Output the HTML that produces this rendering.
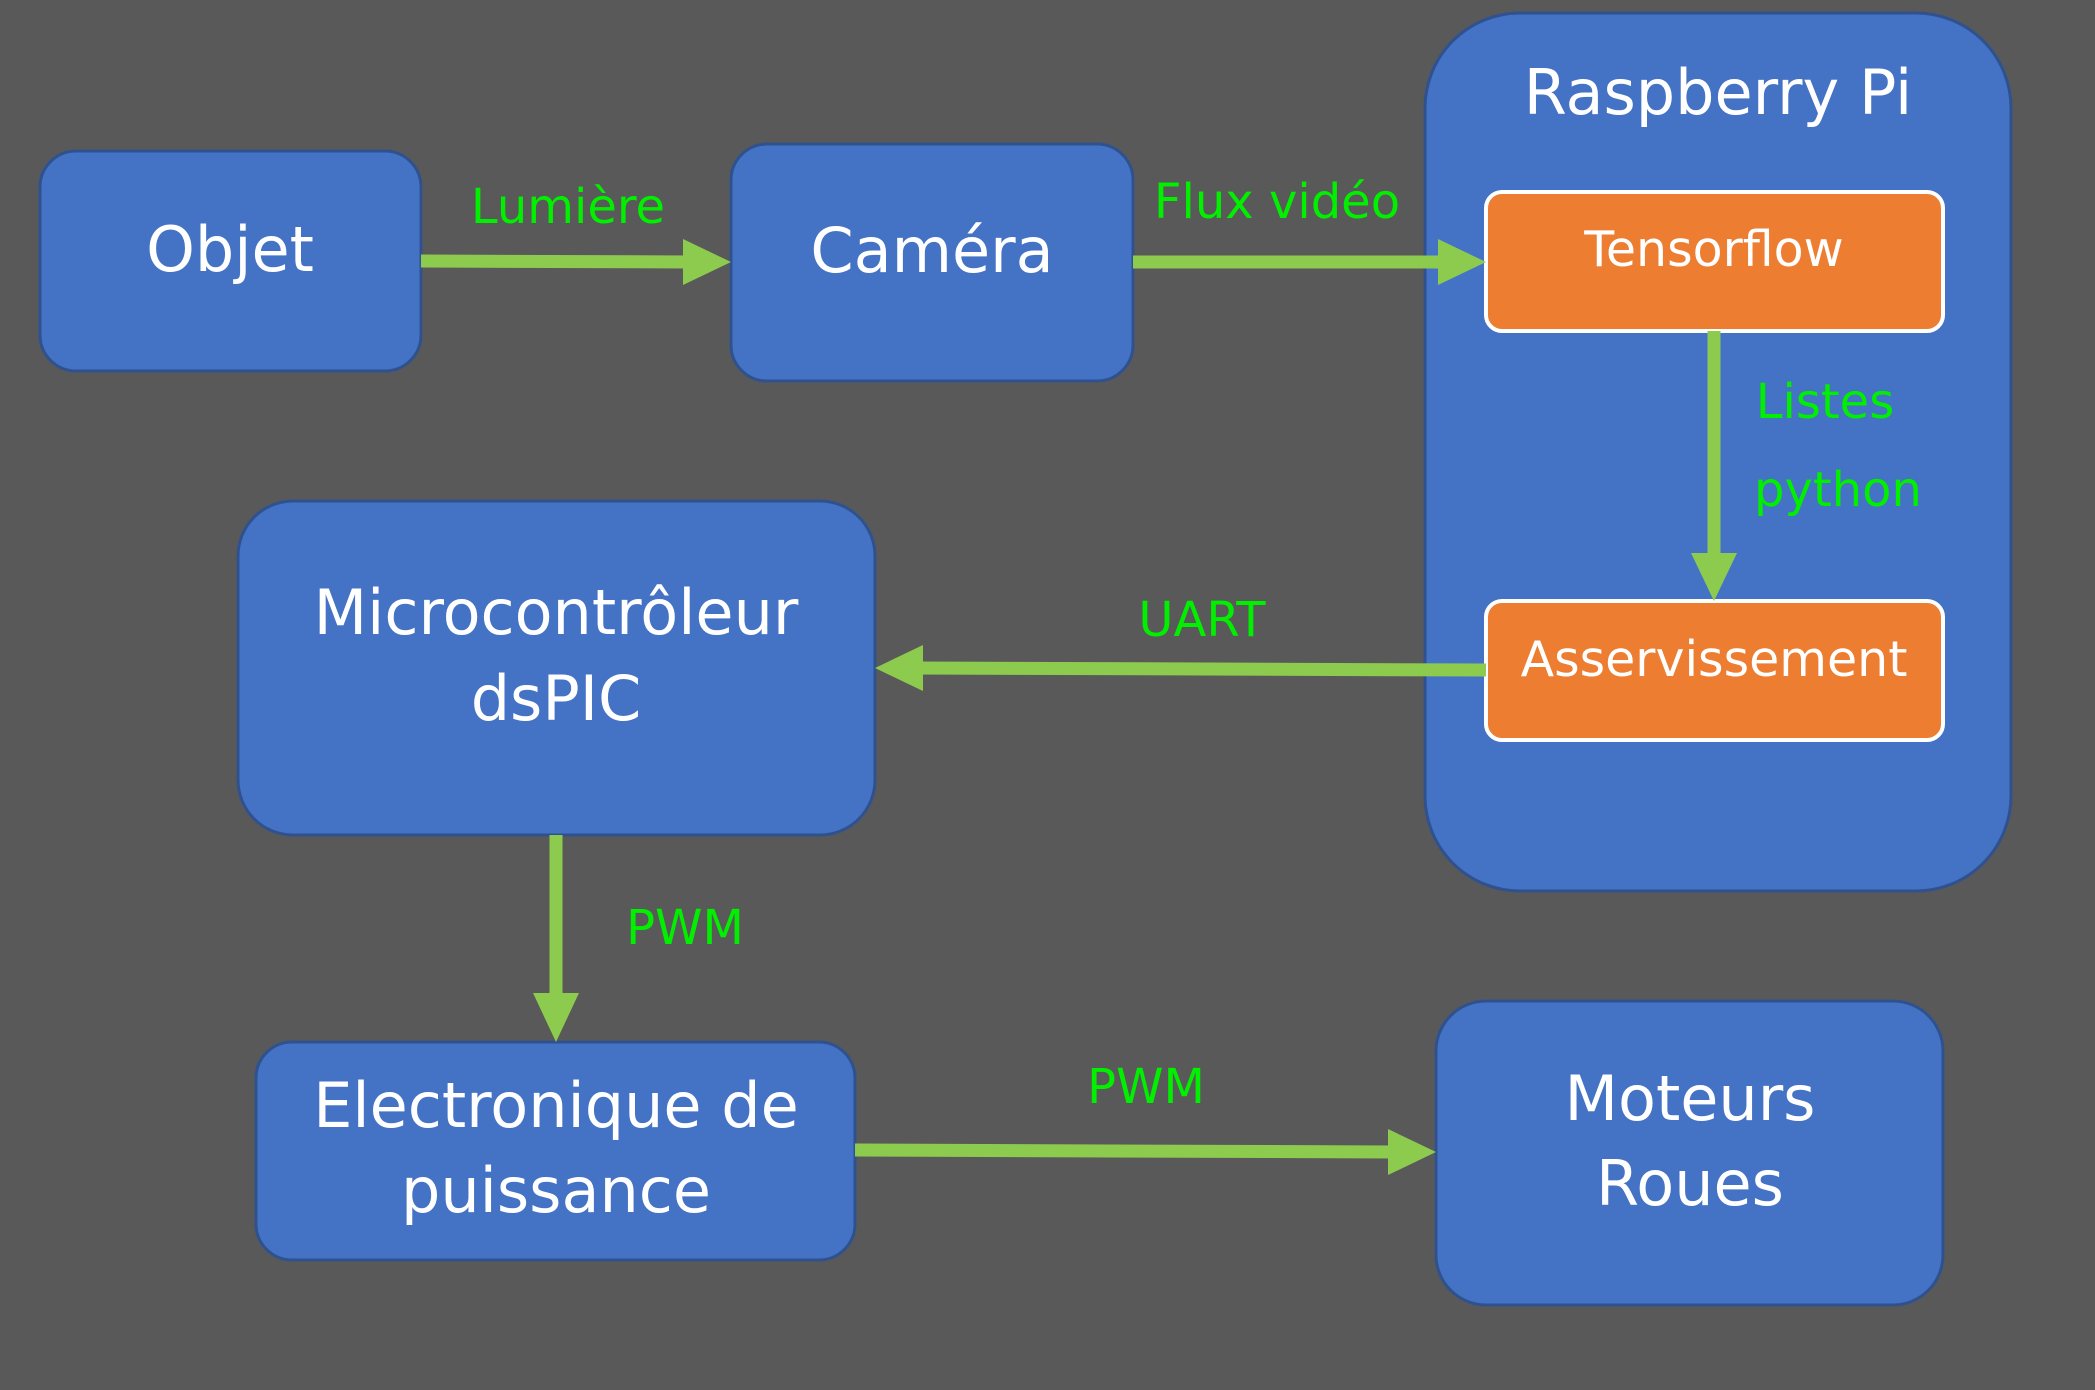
<!DOCTYPE html>
<html><head><meta charset="utf-8"><style>
html,body{margin:0;padding:0;background:#595959;}
svg{display:block;}
text{font-family:"DejaVu Sans","Liberation Sans",sans-serif;}
</style></head><body>
<svg width="2095" height="1390" viewBox="0 0 2095 1390" xmlns="http://www.w3.org/2000/svg">
<rect width="2095" height="1390" fill="#595959"/>
<g fill="#4472c4" stroke="#2f528f" stroke-width="3">
<rect x="40" y="151" width="381" height="220" rx="36"/>
<rect x="731" y="144" width="402" height="237" rx="36"/>
<rect x="1425" y="13" width="586" height="878" rx="95"/>
<rect x="238" y="501" width="637" height="334" rx="55"/>
<rect x="256" y="1042" width="599" height="218" rx="36"/>
<rect x="1436" y="1001" width="507" height="304" rx="50"/>
</g>
<g fill="#ed7d31" stroke="#ffffff" stroke-width="4">
<rect x="1486" y="192" width="457" height="139" rx="16"/>
<rect x="1486" y="601" width="457" height="139" rx="16"/>
</g>
<g stroke="#8dcb4f" stroke-width="13" fill="none">
<line x1="421" y1="261" x2="690" y2="262"/>
<line x1="1133" y1="262" x2="1445" y2="262"/>
<line x1="1714" y1="331" x2="1714" y2="560"/>
<line x1="1486" y1="670" x2="915" y2="668"/>
<line x1="556" y1="835" x2="556" y2="1000"/>
<line x1="855" y1="1150" x2="1395" y2="1152"/>
</g>
<g fill="#8dcb4f">
<polygon points="683,239 731,262 683,285"/>
<polygon points="1438,239 1486,262 1438,285"/>
<polygon points="1691,553 1737,553 1714,601"/>
<polygon points="923,645 875,668 923,691"/>
<polygon points="533,993 579,993 556,1042"/>
<polygon points="1388,1129 1436,1152 1388,1175"/>
</g>
<g fill="#ffffff" text-anchor="middle" font-size="62">
<text x="230" y="271">Objet</text>
<text x="932" y="272">Caméra</text>
<text x="1718" y="114">Raspberry Pi</text>
<text x="556" y="634">Microcontrôleur</text>
<text x="556" y="720">dsPIC</text>
<text x="556" y="1127">Electronique de</text>
<text x="556" y="1212">puissance</text>
<text x="1690" y="1120">Moteurs</text>
<text x="1690" y="1205">Roues</text>
<text x="1714" y="266" font-size="49">Tensorflow</text>
<text x="1714" y="676" font-size="49">Asservissement</text>
</g>
<g fill="#00f000" font-size="48" text-anchor="middle">
<text x="568" y="223">Lumière</text>
<text x="1277" y="218">Flux vidéo</text>
<text x="1825" y="418">Listes</text>
<text x="1838" y="506">python</text>
<text x="1202" y="636">UART</text>
<text x="685" y="944">PWM</text>
<text x="1146" y="1103">PWM</text>
</g>
</svg>
</body></html>
